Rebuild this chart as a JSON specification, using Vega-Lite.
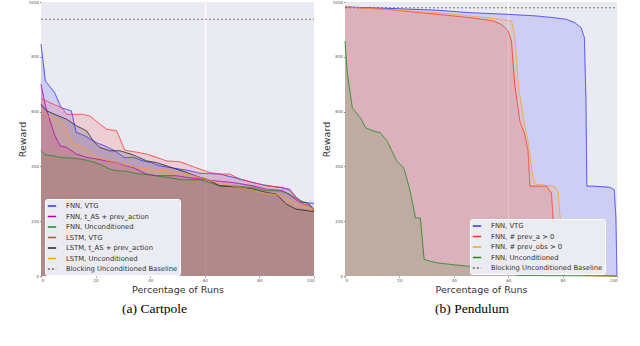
{
"$schema": "https://vega.github.io/schema/vega-lite/v6.json",
"background": "white",
"padding": {"left": 17, "top": 0, "right": 4, "bottom": 0},
"spacing": 5,
"config": {
  "view": {"fill": "#eaeaf2", "stroke": null},
  "font": "DejaVu Sans",
  "axis": {"domain": false, "labelFontSize": 4, "labelColor": "#555555", "tickColor": "#999999", "tickSize": 1.5, "labelPadding": 1, "titleFontSize": 9.5, "titleFontWeight": "normal", "titleColor": "#333333", "grid": false, "format": "d"},
  "axisX": {"titleY": 8},
  "axisY": {"titleX": -14},
  "legend": {"orient": "none", "title": null, "symbolType": "stroke", "symbolSize": 70, "symbolStrokeWidth": 1.3, "symbolOpacity": 1, "labelFontSize": 6.8, "labelColor": "#333333", "rowPadding": 1.5, "padding": 2, "fillColor": "#ebebf2", "strokeColor": "#ffffff", "cornerRadius": 2, "labelLimit": 300, "labelOffset": 9},
  "title": {"font": "Liberation Serif", "fontSize": 13.5, "fontWeight": "normal", "orient": "bottom", "offset": 8, "color": "#000000"}
},
"datasets": {
  "cart": [
    {"s":"FNN, VTG","x":0,"y":846},{"s":"FNN, VTG","x":1.6,"y":712},{"s":"FNN, VTG","x":5,"y":669},{"s":"FNN, VTG","x":7.4,"y":614},{"s":"FNN, VTG","x":11.1,"y":603},{"s":"FNN, VTG","x":12.9,"y":524},{"s":"FNN, VTG","x":16,"y":512},{"s":"FNN, VTG","x":20.2,"y":487},{"s":"FNN, VTG","x":23.3,"y":475},{"s":"FNN, VTG","x":27,"y":457},{"s":"FNN, VTG","x":30.6,"y":432},{"s":"FNN, VTG","x":33.8,"y":433},{"s":"FNN, VTG","x":37.4,"y":420},{"s":"FNN, VTG","x":40.5,"y":414},{"s":"FNN, VTG","x":43.5,"y":402},{"s":"FNN, VTG","x":47.2,"y":396},{"s":"FNN, VTG","x":50.9,"y":390},{"s":"FNN, VTG","x":54.5,"y":384},{"s":"FNN, VTG","x":58.2,"y":375},{"s":"FNN, VTG","x":65.5,"y":372},{"s":"FNN, VTG","x":70.4,"y":360},{"s":"FNN, VTG","x":74,"y":351},{"s":"FNN, VTG","x":77.7,"y":341},{"s":"FNN, VTG","x":81.3,"y":333},{"s":"FNN, VTG","x":87.4,"y":323},{"s":"FNN, VTG","x":91.1,"y":317},{"s":"FNN, VTG","x":93.5,"y":287},{"s":"FNN, VTG","x":96,"y":269},{"s":"FNN, VTG","x":100,"y":265},
    {"s":"FNN, t_AS + prev_action","x":0,"y":700},{"s":"FNN, t_AS + prev_action","x":1.5,"y":627},{"s":"FNN, t_AS + prev_action","x":3.3,"y":566},{"s":"FNN, t_AS + prev_action","x":5.1,"y":512},{"s":"FNN, t_AS + prev_action","x":7,"y":475},{"s":"FNN, t_AS + prev_action","x":9.4,"y":469},{"s":"FNN, t_AS + prev_action","x":13,"y":445},{"s":"FNN, t_AS + prev_action","x":16.7,"y":433},{"s":"FNN, t_AS + prev_action","x":20.4,"y":427},{"s":"FNN, t_AS + prev_action","x":24,"y":420},{"s":"FNN, t_AS + prev_action","x":27.7,"y":414},{"s":"FNN, t_AS + prev_action","x":31.3,"y":402},{"s":"FNN, t_AS + prev_action","x":33.8,"y":396},{"s":"FNN, t_AS + prev_action","x":36.2,"y":384},{"s":"FNN, t_AS + prev_action","x":38.7,"y":372},{"s":"FNN, t_AS + prev_action","x":42.3,"y":366},{"s":"FNN, t_AS + prev_action","x":49.6,"y":366},{"s":"FNN, t_AS + prev_action","x":53.3,"y":360},{"s":"FNN, t_AS + prev_action","x":58.2,"y":354},{"s":"FNN, t_AS + prev_action","x":63,"y":348},{"s":"FNN, t_AS + prev_action","x":70.4,"y":341},{"s":"FNN, t_AS + prev_action","x":77.7,"y":329},{"s":"FNN, t_AS + prev_action","x":82.6,"y":317},{"s":"FNN, t_AS + prev_action","x":88.7,"y":311},{"s":"FNN, t_AS + prev_action","x":92.3,"y":287},{"s":"FNN, t_AS + prev_action","x":94.8,"y":269},{"s":"FNN, t_AS + prev_action","x":97.2,"y":269},{"s":"FNN, t_AS + prev_action","x":100,"y":244},
    {"s":"FNN, Unconditioned","x":0,"y":459},{"s":"FNN, Unconditioned","x":1.5,"y":442},{"s":"FNN, Unconditioned","x":4.5,"y":439},{"s":"FNN, Unconditioned","x":7,"y":433},{"s":"FNN, Unconditioned","x":11.8,"y":430},{"s":"FNN, Unconditioned","x":16.7,"y":423},{"s":"FNN, Unconditioned","x":21.6,"y":408},{"s":"FNN, Unconditioned","x":25.2,"y":390},{"s":"FNN, Unconditioned","x":27.7,"y":384},{"s":"FNN, Unconditioned","x":31.3,"y":382},{"s":"FNN, Unconditioned","x":35,"y":374},{"s":"FNN, Unconditioned","x":39.9,"y":369},{"s":"FNN, Unconditioned","x":46,"y":360},{"s":"FNN, Unconditioned","x":52,"y":351},{"s":"FNN, Unconditioned","x":58.2,"y":351},{"s":"FNN, Unconditioned","x":61.8,"y":341},{"s":"FNN, Unconditioned","x":65.5,"y":329},{"s":"FNN, Unconditioned","x":70.4,"y":329},{"s":"FNN, Unconditioned","x":77.7,"y":323},{"s":"FNN, Unconditioned","x":82.6,"y":311},{"s":"FNN, Unconditioned","x":87.4,"y":311},{"s":"FNN, Unconditioned","x":91.1,"y":299},{"s":"FNN, Unconditioned","x":94.8,"y":275},{"s":"FNN, Unconditioned","x":98.4,"y":262},{"s":"FNN, Unconditioned","x":100,"y":238},
    {"s":"LSTM, VTG","x":0,"y":648},{"s":"LSTM, VTG","x":4.5,"y":627},{"s":"LSTM, VTG","x":7.6,"y":615},{"s":"LSTM, VTG","x":9.4,"y":590},{"s":"LSTM, VTG","x":15.5,"y":590},{"s":"LSTM, VTG","x":17.9,"y":584},{"s":"LSTM, VTG","x":21.6,"y":554},{"s":"LSTM, VTG","x":24,"y":536},{"s":"LSTM, VTG","x":27.7,"y":530},{"s":"LSTM, VTG","x":30.7,"y":459},{"s":"LSTM, VTG","x":33.8,"y":454},{"s":"LSTM, VTG","x":38.7,"y":445},{"s":"LSTM, VTG","x":42.3,"y":433},{"s":"LSTM, VTG","x":46,"y":420},{"s":"LSTM, VTG","x":50.9,"y":417},{"s":"LSTM, VTG","x":53.3,"y":408},{"s":"LSTM, VTG","x":58.2,"y":390},{"s":"LSTM, VTG","x":61.8,"y":378},{"s":"LSTM, VTG","x":65.5,"y":372},{"s":"LSTM, VTG","x":69.1,"y":372},{"s":"LSTM, VTG","x":72.8,"y":354},{"s":"LSTM, VTG","x":77.7,"y":341},{"s":"LSTM, VTG","x":82.6,"y":329},{"s":"LSTM, VTG","x":88.7,"y":323},{"s":"LSTM, VTG","x":91.1,"y":311},{"s":"LSTM, VTG","x":93.5,"y":287},{"s":"LSTM, VTG","x":96,"y":262},{"s":"LSTM, VTG","x":98.4,"y":256},{"s":"LSTM, VTG","x":100,"y":238},
    {"s":"LSTM, t_AS + prev_action","x":0,"y":627},{"s":"LSTM, t_AS + prev_action","x":2.1,"y":603},{"s":"LSTM, t_AS + prev_action","x":5.7,"y":587},{"s":"LSTM, t_AS + prev_action","x":9.4,"y":572},{"s":"LSTM, t_AS + prev_action","x":13,"y":548},{"s":"LSTM, t_AS + prev_action","x":16.7,"y":530},{"s":"LSTM, t_AS + prev_action","x":19.1,"y":493},{"s":"LSTM, t_AS + prev_action","x":21.6,"y":469},{"s":"LSTM, t_AS + prev_action","x":25.2,"y":457},{"s":"LSTM, t_AS + prev_action","x":28.9,"y":457},{"s":"LSTM, t_AS + prev_action","x":33.8,"y":442},{"s":"LSTM, t_AS + prev_action","x":38.7,"y":420},{"s":"LSTM, t_AS + prev_action","x":42.3,"y":414},{"s":"LSTM, t_AS + prev_action","x":46,"y":402},{"s":"LSTM, t_AS + prev_action","x":49.6,"y":390},{"s":"LSTM, t_AS + prev_action","x":53.3,"y":378},{"s":"LSTM, t_AS + prev_action","x":58.2,"y":360},{"s":"LSTM, t_AS + prev_action","x":60.6,"y":354},{"s":"LSTM, t_AS + prev_action","x":65.5,"y":329},{"s":"LSTM, t_AS + prev_action","x":70.4,"y":326},{"s":"LSTM, t_AS + prev_action","x":77.7,"y":317},{"s":"LSTM, t_AS + prev_action","x":82.6,"y":305},{"s":"LSTM, t_AS + prev_action","x":86.2,"y":299},{"s":"LSTM, t_AS + prev_action","x":89.9,"y":262},{"s":"LSTM, t_AS + prev_action","x":93.5,"y":244},{"s":"LSTM, t_AS + prev_action","x":100,"y":235},
    {"s":"LSTM, Unconditioned","x":0,"y":609},{"s":"LSTM, Unconditioned","x":2.1,"y":584},{"s":"LSTM, Unconditioned","x":5.7,"y":572},{"s":"LSTM, Unconditioned","x":8.2,"y":554},{"s":"LSTM, Unconditioned","x":10.6,"y":505},{"s":"LSTM, Unconditioned","x":11.8,"y":481},{"s":"LSTM, Unconditioned","x":15.5,"y":469},{"s":"LSTM, Unconditioned","x":20.4,"y":433},{"s":"LSTM, Unconditioned","x":25.2,"y":420},{"s":"LSTM, Unconditioned","x":30.1,"y":408},{"s":"LSTM, Unconditioned","x":35,"y":396},{"s":"LSTM, Unconditioned","x":39.9,"y":390},{"s":"LSTM, Unconditioned","x":46,"y":384},{"s":"LSTM, Unconditioned","x":53.3,"y":372},{"s":"LSTM, Unconditioned","x":58.2,"y":360},{"s":"LSTM, Unconditioned","x":65.5,"y":338},{"s":"LSTM, Unconditioned","x":72.8,"y":323},{"s":"LSTM, Unconditioned","x":77.7,"y":313},{"s":"LSTM, Unconditioned","x":82.6,"y":301},{"s":"LSTM, Unconditioned","x":87.4,"y":296},{"s":"LSTM, Unconditioned","x":91.1,"y":275},{"s":"LSTM, Unconditioned","x":94.8,"y":256},{"s":"LSTM, Unconditioned","x":100,"y":244},
    {"s":"Blocking Unconditioned Baseline","x":0,"y":937},{"s":"Blocking Unconditioned Baseline","x":100,"y":937}
  ],
  "pend": [
    {"s":"FNN, VTG","x":0,"y":982},{"s":"FNN, VTG","x":15.5,"y":977},{"s":"FNN, VTG","x":33.8,"y":970},{"s":"FNN, VTG","x":46,"y":961},{"s":"FNN, VTG","x":60.1,"y":955},{"s":"FNN, VTG","x":70.4,"y":949},{"s":"FNN, VTG","x":76.5,"y":943},{"s":"FNN, VTG","x":81.3,"y":937},{"s":"FNN, VTG","x":84.4,"y":925},{"s":"FNN, VTG","x":86.8,"y":906},{"s":"FNN, VTG","x":88,"y":870},{"s":"FNN, VTG","x":88.6,"y":638},{"s":"FNN, VTG","x":88.9,"y":328},{"s":"FNN, VTG","x":91.1,"y":328},{"s":"FNN, VTG","x":97.2,"y":324},{"s":"FNN, VTG","x":99,"y":315},{"s":"FNN, VTG","x":99.6,"y":212},{"s":"FNN, VTG","x":100,"y":0},
    {"s":"FNN, # prev_a > 0","x":0,"y":982},{"s":"FNN, # prev_a > 0","x":15.5,"y":973},{"s":"FNN, # prev_a > 0","x":33.8,"y":955},{"s":"FNN, # prev_a > 0","x":46,"y":943},{"s":"FNN, # prev_a > 0","x":54.5,"y":931},{"s":"FNN, # prev_a > 0","x":57.6,"y":918},{"s":"FNN, # prev_a > 0","x":60,"y":894},{"s":"FNN, # prev_a > 0","x":61.2,"y":857},{"s":"FNN, # prev_a > 0","x":62.4,"y":699},{"s":"FNN, # prev_a > 0","x":64.3,"y":565},{"s":"FNN, # prev_a > 0","x":66.1,"y":516},{"s":"FNN, # prev_a > 0","x":67.3,"y":456},{"s":"FNN, # prev_a > 0","x":68,"y":328},{"s":"FNN, # prev_a > 0","x":74,"y":328},{"s":"FNN, # prev_a > 0","x":75.9,"y":303},{"s":"FNN, # prev_a > 0","x":76.5,"y":212},{"s":"FNN, # prev_a > 0","x":79,"y":151},{"s":"FNN, # prev_a > 0","x":83.8,"y":78},{"s":"FNN, # prev_a > 0","x":86.2,"y":17},{"s":"FNN, # prev_a > 0","x":88.7,"y":2},{"s":"FNN, # prev_a > 0","x":100,"y":0},
    {"s":"FNN, # prev_obs > 0","x":0,"y":982},{"s":"FNN, # prev_obs > 0","x":33.8,"y":961},{"s":"FNN, # prev_obs > 0","x":46,"y":949},{"s":"FNN, # prev_obs > 0","x":57,"y":937},{"s":"FNN, # prev_obs > 0","x":61.2,"y":931},{"s":"FNN, # prev_obs > 0","x":62.4,"y":882},{"s":"FNN, # prev_obs > 0","x":63.7,"y":699},{"s":"FNN, # prev_obs > 0","x":65.5,"y":578},{"s":"FNN, # prev_obs > 0","x":67.3,"y":492},{"s":"FNN, # prev_obs > 0","x":69.1,"y":358},{"s":"FNN, # prev_obs > 0","x":70,"y":335},{"s":"FNN, # prev_obs > 0","x":76.8,"y":328},{"s":"FNN, # prev_obs > 0","x":78.3,"y":309},{"s":"FNN, # prev_obs > 0","x":79.1,"y":212},{"s":"FNN, # prev_obs > 0","x":81.3,"y":127},{"s":"FNN, # prev_obs > 0","x":85,"y":41},{"s":"FNN, # prev_obs > 0","x":87.4,"y":11},{"s":"FNN, # prev_obs > 0","x":89.9,"y":2},{"s":"FNN, # prev_obs > 0","x":100,"y":0},
    {"s":"FNN, Unconditioned","x":0,"y":857},{"s":"FNN, Unconditioned","x":0.9,"y":736},{"s":"FNN, Unconditioned","x":2.7,"y":614},{"s":"FNN, Unconditioned","x":5.7,"y":577},{"s":"FNN, Unconditioned","x":7.6,"y":541},{"s":"FNN, Unconditioned","x":10.6,"y":529},{"s":"FNN, Unconditioned","x":13,"y":523},{"s":"FNN, Unconditioned","x":15.5,"y":492},{"s":"FNN, Unconditioned","x":19.1,"y":419},{"s":"FNN, Unconditioned","x":21.6,"y":395},{"s":"FNN, Unconditioned","x":24,"y":309},{"s":"FNN, Unconditioned","x":25.9,"y":212},{"s":"FNN, Unconditioned","x":27.7,"y":212},{"s":"FNN, Unconditioned","x":29.1,"y":60},{"s":"FNN, Unconditioned","x":33.8,"y":48},{"s":"FNN, Unconditioned","x":40,"y":41},{"s":"FNN, Unconditioned","x":46,"y":35},{"s":"FNN, Unconditioned","x":55.7,"y":29},{"s":"FNN, Unconditioned","x":60.6,"y":17},{"s":"FNN, Unconditioned","x":63,"y":2},{"s":"FNN, Unconditioned","x":100,"y":0},
    {"s":"Blocking Unconditioned Baseline","x":0,"y":979},{"s":"Blocking Unconditioned Baseline","x":100,"y":979}
  ]
},
"hconcat": [
  {
    "width": 273, "height": 274,
    "title": {"text": "(a) Cartpole", "dx": -23},
    "data": {"name": "cart"},
    "encoding": {
      "x": {"field": "x", "type": "quantitative", "title": "Percentage of Runs", "scale": {"domain": [0, 100], "nice": false},
            "axis": {"values": [0, 20, 40, 60, 80, 100], "grid": true, "gridColor": "white", "gridWidth": 1.2, "gridOpacity": {"condition": {"test": "datum.value === 60", "value": 1}, "value": 0}}},
      "y": {"field": "y", "type": "quantitative", "title": "Reward", "stack": null, "scale": {"domain": [0, 1000], "nice": false}, "axis": {"values": [0, 200, 400, 600, 800, 1000]}},
      "color": {"field": "s", "type": "nominal",
        "scale": {"domain": ["FNN, VTG", "FNN, t_AS + prev_action", "FNN, Unconditioned", "LSTM, VTG", "LSTM, t_AS + prev_action", "LSTM, Unconditioned", "Blocking Unconditioned Baseline"],
                  "range": ["#3030ff", "#b000b0", "#1a8a1a", "#ff3030", "#222222", "#ffa020", "#666666"]},
        "legend": {"legendX": 4, "legendY": 197}}
    },
    "layer": [
      {"transform": [{"filter": "datum.s !== 'Blocking Unconditioned Baseline'"}], "mark": {"type": "area", "fillOpacity": 0.15}},
      {"mark": {"type": "line", "strokeWidth": 1, "strokeOpacity": 0.85},
       "encoding": {"strokeDash": {"field": "s", "type": "nominal",
         "scale": {"domain": ["FNN, VTG", "FNN, t_AS + prev_action", "FNN, Unconditioned", "LSTM, VTG", "LSTM, t_AS + prev_action", "LSTM, Unconditioned", "Blocking Unconditioned Baseline"],
                   "range": [[1, 0], [1, 0], [1, 0], [1, 0], [1, 0], [1, 0], [2, 2]]},
         "legend": {"legendX": 4, "legendY": 197}}}}
    ]
  },
  {
    "width": 272, "height": 274,
    "title": {"text": "(b) Pendulum", "dx": -9},
    "data": {"name": "pend"},
    "encoding": {
      "x": {"field": "x", "type": "quantitative", "title": "Percentage of Runs", "scale": {"domain": [0, 100], "nice": false},
            "axis": {"values": [0, 20, 40, 60, 80, 100], "grid": true, "gridColor": "white", "gridWidth": 1.2, "gridOpacity": {"condition": {"test": "datum.value === 60", "value": 1}, "value": 0}}},
      "y": {"field": "y", "type": "quantitative", "title": "Reward", "stack": null, "scale": {"domain": [0, 1000], "nice": false}, "axis": {"values": [0, 200, 400, 600, 800, 1000]}},
      "color": {"field": "s", "type": "nominal",
        "scale": {"domain": ["FNN, VTG", "FNN, # prev_a > 0", "FNN, # prev_obs > 0", "FNN, Unconditioned", "Blocking Unconditioned Baseline"],
                  "range": ["#3030ff", "#ff3030", "#ffa020", "#1a8a1a", "#666666"]},
        "legend": {"legendX": 125, "legendY": 217}}
    },
    "layer": [
      {"transform": [{"filter": "datum.s !== 'Blocking Unconditioned Baseline'"}], "mark": {"type": "area", "fillOpacity": 0.15}},
      {"mark": {"type": "line", "strokeWidth": 1, "strokeOpacity": 0.85},
       "encoding": {"strokeDash": {"field": "s", "type": "nominal",
         "scale": {"domain": ["FNN, VTG", "FNN, # prev_a > 0", "FNN, # prev_obs > 0", "FNN, Unconditioned", "Blocking Unconditioned Baseline"],
                   "range": [[1, 0], [1, 0], [1, 0], [1, 0], [2, 2]]},
         "legend": {"legendX": 125, "legendY": 217}}}}
    ]
  }
],
"resolve": {"scale": {"color": "independent", "strokeDash": "independent"}, "legend": {"color": "independent", "strokeDash": "independent"}}
}
